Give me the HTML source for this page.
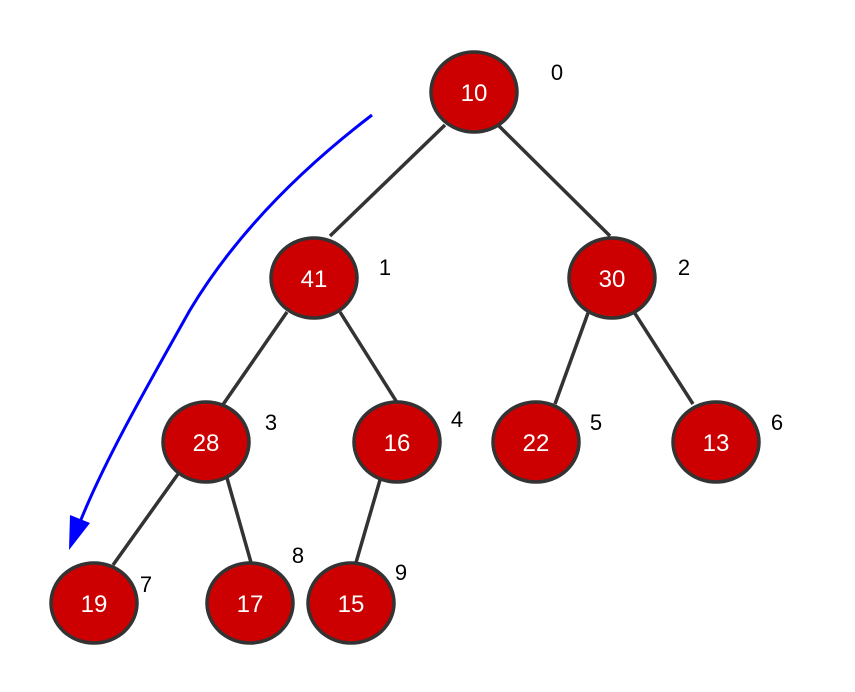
<!DOCTYPE html>
<html><head><meta charset="utf-8"><style>
html,body{margin:0;padding:0;background:#fff;}
svg{display:block;font-family:"Liberation Sans",Arial,sans-serif;}
</style></head><body>
<svg id="tree" width="855" height="692" viewBox="0 0 855 692">
<g id="edges"></g>
<path d="M372,115 C300,170 235,235 190,310 C145,390 105,460 80,522" fill="none" stroke="#0000ff" stroke-width="3"/>
<polygon points="69,550 70,515 90,523" fill="#0000ff"/>
<g id="nodes"></g>
</svg>
<script>
const values = [10, 41, 30, 28, 16, 22, 13, 19, 17, 15];
const indexLabels = ["0","1","2","3","4","5","6","7","8","9"];
const parents = [-1, 0, 0, 1, 1, 2, 2, 3, 3, 4];
const nodeX = [474, 314, 612, 206, 397, 536, 716, 94, 250, 351];
const nodeY = [92, 278, 278, 442, 442, 442, 442, 603, 603, 603];
const labelDX = [83, 71, 72, 65, 60, 60, 61, 52, 48, 50];
const labelDY = [-12, -3, -3, -12, -15, -12, -12, -11, -40, -23];
// edge anchor offsets (styling), indexed by child
const sDX = [0, -29, 24, -27, 26, -24, 22, -28, 21, -17];
const sDY = [0, 33, 33, 34, 34, 35, 34, 32, 36, 38];
const eDX = [0, 16, -2, 16, 1, 19, -23, 19, 2, 4];
const eDY = [0, -42, -42, -36, -38, -38, -38, -38, -37, -37];
const NS = "http://www.w3.org/2000/svg";
const eg = document.getElementById('edges'), ng = document.getElementById('nodes');
for (let i = 0; i < values.length; i++) {
  const p = parents[i];
  if (p >= 0) {
    const l = document.createElementNS(NS, 'line');
    l.setAttribute('x1', nodeX[p] + sDX[i]); l.setAttribute('y1', nodeY[p] + sDY[i]);
    l.setAttribute('x2', nodeX[i] + eDX[i]); l.setAttribute('y2', nodeY[i] + eDY[i]);
    l.setAttribute('stroke', '#333'); l.setAttribute('stroke-width', '3.5');
    
    
    eg.appendChild(l);
  }
  const e = document.createElementNS(NS, 'ellipse');
  e.setAttribute('cx', nodeX[i]); e.setAttribute('cy', nodeY[i]);
  e.setAttribute('rx', 43); e.setAttribute('ry', 40);
  e.setAttribute('fill', '#cc0000'); e.setAttribute('stroke', '#333'); e.setAttribute('stroke-width', '3.5');
  
  
  ng.appendChild(e);
  const t = document.createElementNS(NS, 'text');
  t.setAttribute('x', nodeX[i]); t.setAttribute('y', nodeY[i] + 9);
  t.setAttribute('text-anchor', 'middle'); t.setAttribute('fill', '#fff'); t.setAttribute('font-size', '24');
  t.textContent = values[i];
  
  
  ng.appendChild(t);
  const ix = document.createElementNS(NS, 'text');
  ix.setAttribute('x', nodeX[i] + labelDX[i]); ix.setAttribute('y', nodeY[i] + labelDY[i]);
  ix.setAttribute('text-anchor', 'middle'); ix.setAttribute('fill', '#000'); ix.setAttribute('font-size', '22');
  ix.textContent = indexLabels[i];
  
  
  ng.appendChild(ix);
}
</script>
</body></html>
